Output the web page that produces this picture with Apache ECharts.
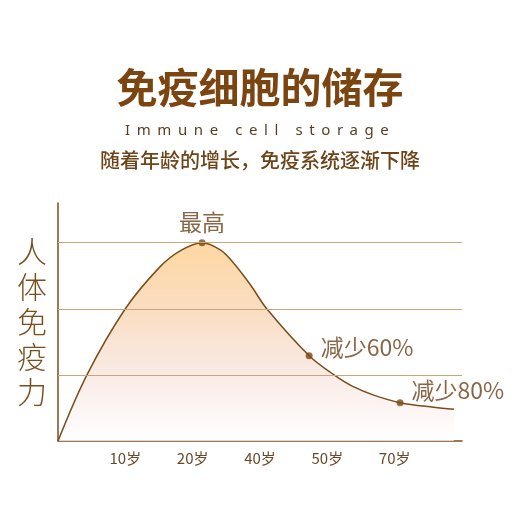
<!DOCTYPE html>
<html>
<head>
<meta charset="utf-8">
<script src="https://cdn.jsdelivr.net/npm/echarts@6/dist/echarts.min.js"></script>
<style>
  html, body {margin: 0; padding: 0; background: #fff;}
  #main {width: 520px; height: 520px;}
  #sub {
    position: absolute; left: 125px; top: 119px;
    font: 15px/20px "Noto Sans", sans-serif;
    letter-spacing: 6.6px; color: #5c3d20; white-space: nowrap;
  }
</style>
</head>
<body>
<div id="main"></div>
<div id="sub">Immune cell storage</div>
<script>
// x 轴刻度文字 (0..6)
const ageLabels = ['', '10岁', '20岁', '40岁', '50岁', '70岁', '']
// 曲线
const curveX = [0, 0.43, 1.0, 1.51, 1.82, 2.14, 2.41, 2.61, 2.86, 3.10, 3.73, 4.10, 4.37, 4.70, 5.08, 5.58, 5.88]
const curveY = [0, 1, 2, 2.63, 2.88, 3, 2.89, 2.69, 2.36, 2.0, 1.29, 1.0, 0.83, 0.69, 0.58, 0.51, 0.48]
// 标注点
const noteX = [2.14, 3.73, 5.08]
const noteY = [3, 1.29, 0.58]
const noteText = ['最高', '减少60%', '减少80%']
const gridValues = [1, 2, 3]

const brown = '#7a4e1c'
const chart = echarts.init(document.getElementById('main'))

const option = {
  animation: false,
  textStyle: {fontFamily: '"Noto Sans CJK SC", "Noto Sans", sans-serif'},
  grid: {left: 58, right: 58, top: 203, bottom: 79},
  graphic: [{
    type: 'text', x: 260, y: 87,
    style: {
      text: '免疫细胞的储存', align: 'center', verticalAlign: 'middle',
      font: 'bold 41px "Noto Sans CJK SC"', fill: '#7a4510'
    }
  }, {
    type: 'text', x: 260, y: 160,
    style: {
      text: '随着年龄的增长，免疫系统逐渐下降', align: 'center', verticalAlign: 'middle',
      font: '500 20px "Noto Sans CJK SC"', fill: '#6e4419'
    }
  }],
  xAxis: {
    type: 'value', min: 0, max: 6, interval: 1,
    axisLine: {lineStyle: {color: brown, width: 1.5}},
    axisTick: {show: false},
    splitLine: {show: false},
    axisLabel: {
      formatter: v => ageLabels[v] || '',
      color: '#6b4a28', fontSize: 15, margin: 10
    }
  },
  yAxis: {
    type: 'value', min: 0, max: 3.6,
    name: '人\n体\n免\n疫\n力',
    nameLocation: 'middle', nameRotate: 0, nameGap: 11,
    nameTextStyle: {fontSize: 30, lineHeight: 35, color: '#7a4f1e', fontWeight: 300},
    axisLine: {show: true, lineStyle: {color: brown, width: 1.5}},
    axisTick: {show: false},
    axisLabel: {show: false},
    splitLine: {show: false}
  },
  series: [{
    type: 'line',
    data: curveX.map((x, i) => [x, curveY[i]]),
    smooth: 0.35,
    symbol: 'none',
    lineStyle: {color: brown, width: 1.5},
    areaStyle: {
      color: new echarts.graphic.LinearGradient(0, 0, 0, 1, [
        {offset: 0, color: '#fdc57a'},
        {offset: 0.35, color: '#f7cfa8'},
        {offset: 0.65, color: '#f6e0d8'},
        {offset: 0.85, color: '#fbf1ef'},
        {offset: 1, color: '#ffffff'}
      ])
    },
    markLine: {
      silent: true, symbol: 'none',
      label: {show: false},
      lineStyle: {color: '#c9a578', width: 1, type: 'solid'},
      data: gridValues.map(v => ({yAxis: v}))
    },
    z: 2
  }, {
    type: 'scatter',
    data: noteX.map((x, i) => ({
      value: [x, noteY[i]],
      label: i === 0
        ? {position: 'top', distance: 5}
        : {position: 'right', distance: 8, offset: [0, i === 1 ? -8 : -12]}
    })),
    symbolSize: 7,
    itemStyle: {color: '#7a4a14'},
    label: {
      show: true,
      formatter: p => noteText[p.dataIndex],
      fontSize: 23, color: '#6b4118'
    },
    z: 3
  }]
}

chart.setOption(option)
</script>
</body>
</html>
